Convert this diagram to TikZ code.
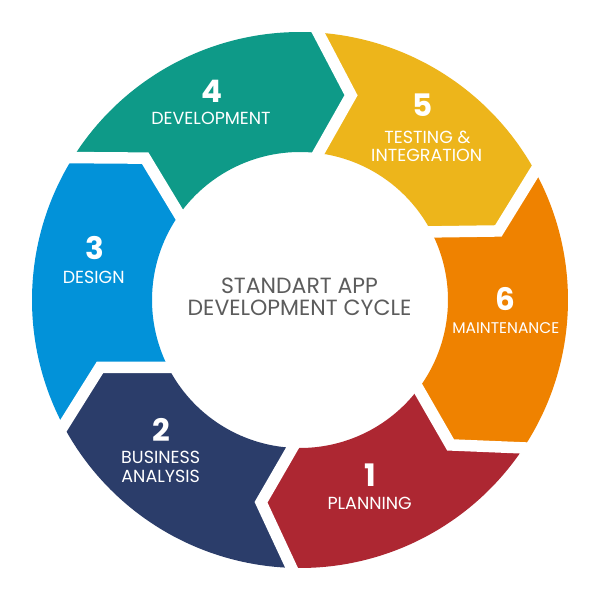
\documentclass[tikz,border=0pt]{standalone}
\usepackage{fontspec}
\setmainfont{Poppins}
\definecolor{cfour}{RGB}{14,154,136}
\definecolor{cfive}{RGB}{237,181,27}
\definecolor{csix}{RGB}{239,130,0}
\definecolor{cone}{RGB}{173,39,50}
\definecolor{ctwo}{RGB}{43,61,106}
\definecolor{cthree}{RGB}{2,146,217}
\definecolor{ctext}{RGB}{92,92,92}
\newcommand\ringseg[9]{\fill[#1] (#2:268) -- (#3:#4) -- (#5:148) arc[start angle=#5,end angle=#6,radius=148] -- (#7:#8) -- (#9:268) arc[start angle=#9,end angle=#2,radius=268] -- cycle;}
\begin{document}
\begin{tikzpicture}[x=1pt,y=1pt,
  lab/.style={text=white,font=\fontsize{17.5}{20}\selectfont,inner sep=0pt},
  labsm/.style={text=white,font=\fontsize{15.5}{18}\selectfont,inner sep=0pt},
  num/.style={text=white,font=\fontsize{31}{31}\selectfont\bfseries,inner sep=0pt},
  ctr/.style={text=ctext,font=\fontsize{22}{26}\selectfont,inner sep=0pt},
  gapline/.style={draw=white,line width=11.5pt,line join=miter,shorten <=-14pt,shorten >=-14pt}]
\useasboundingbox (-300,-300) rectangle (300,300);
\fill[white] (-300,-300) rectangle (300,300);
% segments
\ringseg{cfive}{86.1}{76.0}{211}{82.9}{27.4}{19.2}{210}{28.7}
\ringseg{csix}{28.7}{19.2}{210}{27.4}{-36.9}{-43.9}{209}{-33.5}
\ringseg{cone}{-33.5}{-43.9}{209}{-36.9}{-92.9}{-100.9}{206}{-91.8}
\ringseg{ctwo}{-91.8}{-100.9}{206}{-92.9}{-152.9}{-161.4}{211}{-152}
\ringseg{cthree}{-152}{-161.4}{211}{-152.9}{-215.3}{-222.5}{210}{-212.1}
\ringseg{cfour}{147.9}{137.5}{210}{144.7}{82.9}{76.0}{211}{86.1}
% white separators
\draw[gapline] (86.1:268) -- (76.0:211) -- (82.9:148);
\draw[gapline] (28.7:268) -- (19.2:210) -- (27.4:148);
\draw[gapline] (-33.5:268) -- (-43.9:209) -- (-36.9:148);
\draw[gapline] (-91.8:268) -- (-100.9:206) -- (-92.9:148);
\draw[gapline] (-152:268) -- (-161.4:211) -- (-152.9:148);
\draw[gapline] (-212.1:268) -- (-222.5:210) -- (-215.3:148);
% labels
\node[num] (n4) at (-88.3,208.8) {4};
\node[lab] (l4) at (-89,181.2) {DEVELOPMENT};
\node[num] (n5) at (123,195.3) {5};
\node[lab] (l5a) at (127.5,162.5) {TESTING \&};
\node[lab] (l5b) at (126.7,144.2) {INTEGRATION};
\node[num] (n3) at (-205,52) {3};
\node[lab] (l3) at (-206.3,22.7) {DESIGN};
\node[num] (n2) at (-138.3,-130) {2};
\node[lab] (l2a) at (-139.3,-157.5) {BUSINESS};
\node[lab] (l2b) at (-139.3,-176.5) {ANALYSIS};
\node[num] (n6) at (205,0.5) {6};
\node[labsm] (l6) at (205.8,-28.3) {MAINTENANCE};
\node[num] (n1) at (70,-175.3) {1};
\node[lab] (l1) at (69.7,-203.8) {PLANNING};
\node[ctr] (c1) at (-0.5,14.2) {STANDART APP};
\node[ctr] (c2) at (-0.5,-8.3) {DEVELOPMENT CYCLE};
\end{tikzpicture}
\end{document}
